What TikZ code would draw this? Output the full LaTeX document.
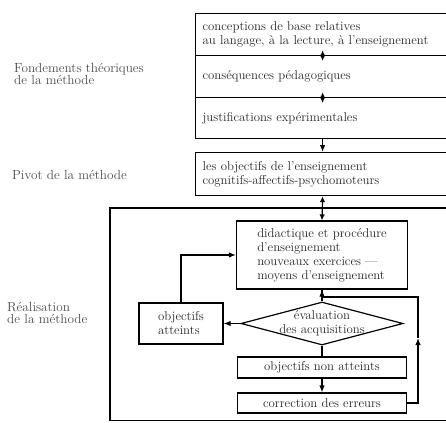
\documentclass[tikz,border=0pt]{standalone}
\usepackage{tikz}
\usetikzlibrary{arrows.meta,shapes.geometric}

\tikzset{
 boite/.style={draw,rectangle,line width=1.2pt,inner ysep=0pt},
 haut/.style={boite,anchor=north west,text width=240pt,inner xsep=7pt,align=left},
 losange/.style={draw,diamond,line width=1.2pt,inner sep=0pt},
 fleche/.style={line width=1.2pt,-{Latex[length=7pt,width=5.5pt]}},
 deuxfleches/.style={line width=1.2pt,{Latex[length=6pt,width=5.5pt]}-{Latex[length=6pt,width=5.5pt]}},
 titre/.style={anchor=west,align=left,inner xsep=0pt,text=black!70,font=\fontsize{13.2}{12.5}\selectfont}
}

\begin{document}
\begin{tikzpicture}[x=1pt,y=-1pt,font=\fontsize{12.8}{14}\selectfont,text=black!85]
\useasboundingbox (0,0) rectangle (446,422);
\clip (0,0) rectangle (446,422);

\node[haut,minimum height=42pt] (conc) at (195,13) {conceptions de base relatives\\au langage, à la lecture, à l'enseignement};
\node[haut,minimum height=42pt] (cons) at (195,55) {conséquences pédagogiques};
\node[haut,minimum height=41pt] (just) at (195,97) {justifications expérimentales};
\node[haut,minimum height=43pt] (pivot) at (195,152) {les objectifs de l'enseignement\\cognitifs-affectifs-psychomoteurs};

\coordinate (cadre1) at (110,208);
\coordinate (cadre2) at (470,420.5);
\draw[line width=1.2pt] (cadre1) rectangle (cadre2);

\node[boite,minimum width=171pt,minimum height=68pt,align=left] (didac) at (322,255) {didactique et procédure\\d'enseignement\\nouveaux exercices ---\\moyens d'enseignement};
\node[losange,minimum width=162pt,minimum height=43pt] (eval) at (322,323.5) {};
\node[align=center] (evaltxt) at (eval.center) {évaluation\\des acquisitions};
\node[boite,minimum width=84pt,minimum height=41pt,align=left] (atteints) at (181,323.5) {objectifs\\atteints};
\node[boite,minimum width=169pt,minimum height=21pt] (nonatt) at (322,367.5) {objectifs non atteints};
\node[boite,minimum width=169pt,minimum height=20pt] (corr) at (322,403) {correction des erreurs};

\coordinate (retour) at (418,338);
\coordinate (jonction) at (322,297);

\draw[deuxfleches] ([yshift=6pt]conc.south) -- ([yshift=-6pt]cons.north);
\draw[deuxfleches] ([yshift=6pt]cons.south) -- ([yshift=-6pt]just.north);
\draw[fleche] (just.south) -- (pivot.north);
\draw[deuxfleches] (pivot.south) -- (didac.north);
\draw[line width=1.2pt] (didac.south) -- (eval.north);
\draw[fleche] (eval.west) -- (atteints.east);
\draw[fleche] (atteints.north) |- (didac.west);
\draw[line width=1.2pt] (eval.south) -- (nonatt.north);
\draw[fleche] (nonatt.south) -- (corr.north);
\draw[fleche] (corr.east) -| (retour);
\draw[fleche] (retour) |- (jonction) -- (didac.south);

\node[titre] (fond) at (14,74) {Fondements théoriques\\de la méthode};
\node[titre] (piv) at (12,175) {Pivot de la méthode};
\node[titre] (real) at (7,313) {Réalisation\\de la méthode};
\end{tikzpicture}
\end{document}
